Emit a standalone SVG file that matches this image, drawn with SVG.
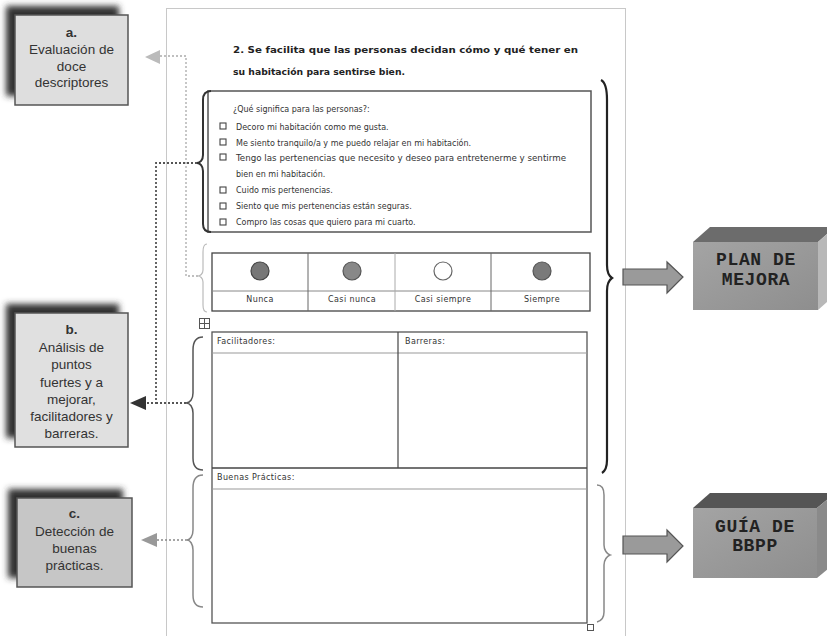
<svg xmlns="http://www.w3.org/2000/svg" width="827" height="636" viewBox="0 0 827 636">
<defs>
<filter id="sh" x="-30%" y="-30%" width="160%" height="160%"><feGaussianBlur stdDeviation="3.2"/></filter>
<linearGradient id="front" x1="0" y1="0" x2="1" y2="1"><stop offset="0" stop-color="#a4a4a4"/><stop offset="1" stop-color="#8e8e8e"/></linearGradient>
</defs>
<style>
.lbl{font-family:"Liberation Sans",Arial,sans-serif;font-size:13.5px;fill:#333;text-anchor:middle}
.doc{font-family:"DejaVu Sans",Verdana,sans-serif;font-size:8px;fill:#333}
.title{font-family:"DejaVu Sans",Verdana,sans-serif;font-size:9.3px;font-weight:bold;fill:#222}
.rate{font-family:"DejaVu Sans",Verdana,sans-serif;font-size:8px;fill:#333;text-anchor:middle;letter-spacing:0.4px}
.box3{font-family:"Liberation Mono","Courier New",monospace;font-size:18px;font-weight:bold;fill:#222;text-anchor:middle;letter-spacing:0.6px}
.cb{fill:#fff;stroke:#444;stroke-width:1.1}
.shadow{fill:#333;filter:url(#sh)}
.card{stroke:#555;stroke-width:1.5}
.dot{fill:none;stroke-dasharray:2 2}
.blk{fill:#9a9a9a;stroke:#555;stroke-width:1.2}
</style>
<rect width="827" height="636" fill="#fff"/>

<g id="page">
<rect x="166.5" y="8.5" width="459" height="640" fill="#fff" stroke="#c8c8c8" stroke-width="1"/>
<text class="title" x="233" y="53" textLength="345" lengthAdjust="spacingAndGlyphs">2. Se facilita que las personas decidan cómo y qué tener en</text>
<text class="title" x="233" y="75" textLength="172" lengthAdjust="spacingAndGlyphs">su habitación para sentirse bien.</text>
</g>

<g id="question-box">
<rect x="208" y="91" width="383" height="141" fill="#fff" stroke="#555" stroke-width="1.5"/>
<text class="doc" x="233" y="111.5">¿Qué significa para las personas?:</text>
<rect class="cb" x="220" y="123" width="6" height="6"/>
<text class="doc" x="236" y="129.5">Decoro mi habitación como me gusta.</text>
<rect class="cb" x="220" y="139" width="6" height="6"/>
<text class="doc" x="236" y="145.5">Me siento tranquilo/a y me puedo relajar en mi habitación.</text>
<rect class="cb" x="220" y="154" width="6" height="6"/>
<text class="doc" x="236" y="160.5" textLength="330" lengthAdjust="spacingAndGlyphs">Tengo las pertenencias que necesito y deseo para entretenerme y sentirme</text>
<text class="doc" x="236" y="176.5">bien en mi habitación.</text>
<rect class="cb" x="220" y="187" width="6" height="6"/>
<text class="doc" x="236" y="193">Cuido mis pertenencias.</text>
<rect class="cb" x="220" y="203" width="6" height="6"/>
<text class="doc" x="236" y="209">Siento que mis pertenencias están seguras.</text>
<rect class="cb" x="220" y="219" width="6" height="6"/>
<text class="doc" x="236" y="225">Compro las cosas que quiero para mi cuarto.</text>
</g>

<g id="rating-table">
<rect x="212" y="253" width="378" height="58" fill="#fff" stroke="#444" stroke-width="1.3"/>
<line x1="212" y1="291" x2="590" y2="291" stroke="#888" stroke-width="1"/>
<line x1="308" y1="253" x2="308" y2="311" stroke="#666" stroke-width="1"/>
<line x1="395" y1="253" x2="395" y2="311" stroke="#aaa" stroke-width="1"/>
<line x1="491" y1="253" x2="491" y2="311" stroke="#666" stroke-width="1"/>
<circle cx="260" cy="271" r="9" fill="#777" stroke="#444" stroke-width="1.2"/>
<circle cx="352" cy="271" r="9" fill="#888" stroke="#555" stroke-width="1.2"/>
<circle cx="443" cy="271" r="9" fill="#fff" stroke="#666" stroke-width="1.2"/>
<circle cx="542" cy="271" r="9" fill="#7a7a7a" stroke="#555" stroke-width="1.2"/>
<text class="rate" x="260" y="302">Nunca</text>
<text class="rate" x="352" y="302">Casi nunca</text>
<text class="rate" x="443" y="302">Casi siempre</text>
<text class="rate" x="542" y="302">Siempre</text>
</g>

<g id="analysis-table">
<rect x="199.5" y="318.5" width="10" height="10" fill="#fff" stroke="#555" stroke-width="1"/>
<line x1="204.5" y1="318.5" x2="204.5" y2="328.5" stroke="#555" stroke-width="1"/>
<line x1="199.5" y1="323.5" x2="209.5" y2="323.5" stroke="#555" stroke-width="1"/>
<rect x="212" y="332" width="375" height="291" fill="#fff" stroke="#555" stroke-width="1.3"/>
<line x1="212" y1="353" x2="587" y2="353" stroke="#999" stroke-width="1"/>
<line x1="398" y1="332" x2="398" y2="468" stroke="#444" stroke-width="1.2"/>
<line x1="212" y1="468" x2="587" y2="468" stroke="#444" stroke-width="1.3"/>
<line x1="212" y1="489" x2="587" y2="489" stroke="#999" stroke-width="1"/>
<text class="doc" x="217" y="344" style="letter-spacing:0.4px">Facilitadores:</text>
<text class="doc" x="405" y="344" style="letter-spacing:0.4px">Barreras:</text>
<text class="doc" x="217" y="480" style="letter-spacing:0.4px">Buenas Prácticas:</text>
<rect x="587.5" y="624.5" width="6" height="6" fill="#fff" stroke="#555" stroke-width="1"/>
</g>

<g id="braces" fill="none">
<path d="M211,91 C205,91 203,95 203,100 L203,155 C203,160 200,163 197,163 C200,163 203,166 203,171 L203,224 C203,229 205,232 211,232" stroke="#333" stroke-width="2"/>
<path d="M207,244 C204,244 203,248 203,252 L203,270 C203,274 200,276 198,276 C200,276 203,278 203,282 L203,305 C203,309 204,312 207,312" stroke="#bbb" stroke-width="1.2"/>
<path d="M203,337 C196,337 193,342 193,350 L193,393 C193,399 190,403 186,403 C190,403 193,407 193,413 L193,458 C193,465 196,470 203,470" stroke="#555" stroke-width="1.5"/>
<path d="M203,475 C196,475 193,480 193,488 L193,530 C193,536 190,540 187,540 C190,540 193,544 193,550 L193,595 C193,602 196,607 203,607" stroke="#888" stroke-width="1.5"/>
<path d="M601,80 C605,82 607,88 607,100 L607,265 C607,272 609,276 612,278 C609,280 607,284 607,291 L607,460 C607,467 605,471 602,473" stroke="#222" stroke-width="2.2"/>
<path d="M597,485 C602,485 604,489 604,495 L604,545 C604,550 607,554 610,555 C607,556 604,560 604,565 L604,612 C604,618 601,621 597,622" stroke="#888" stroke-width="1.5"/>
</g>

<g id="node-a">
<rect class="shadow" x="6" y="6" width="113" height="90"/>
<rect class="card" x="15" y="15" width="113" height="90" fill="#dedede"/>
<text class="lbl" x="71.5" y="37" font-weight="bold">a.</text>
<text class="lbl" x="71.5" y="54">Evaluación de</text>
<text class="lbl" x="71.5" y="70.5">doce</text>
<text class="lbl" x="71.5" y="87">descriptores</text>
</g>

<g id="node-b">
<rect class="shadow" x="6" y="304" width="113" height="134"/>
<rect class="card" x="15" y="313" width="113" height="134" fill="#e0e0e0"/>
<text class="lbl" x="71.5" y="334" font-weight="bold">b.</text>
<text class="lbl" x="71.5" y="352">Análisis de</text>
<text class="lbl" x="71.5" y="369">puntos</text>
<text class="lbl" x="71.5" y="386.5">fuertes y a</text>
<text class="lbl" x="71.5" y="403.5">mejorar,</text>
<text class="lbl" x="71.5" y="421">facilitadores y</text>
<text class="lbl" x="71.5" y="438">barreras.</text>
</g>

<g id="node-c">
<rect class="shadow" x="8" y="489" width="115" height="89"/>
<rect class="card" x="17" y="498" width="115" height="89" fill="#c6c6c6"/>
<text class="lbl" x="74.5" y="518" font-weight="bold">c.</text>
<text class="lbl" x="74.5" y="536">Detección de</text>
<text class="lbl" x="74.5" y="553">buenas</text>
<text class="lbl" x="74.5" y="570">prácticas.</text>
</g>

<g id="node-plan">
<polygon points="693,242 710,227 835,227 818,242" fill="#6c6c6c"/>
<polygon points="818,242 835,227 835,295 818,310" fill="#b8b8b8"/>
<rect x="693" y="242" width="125" height="68" fill="url(#front)"/>
<text class="box3" x="756" y="265">PLAN DE</text>
<text class="box3" x="756" y="285">MEJORA</text>
</g>

<g id="node-guia">
<polygon points="693,508 710,493 835,493 817,508" fill="#555"/>
<polygon points="817,508 835,493 835,563 817,578" fill="#8a8a8a"/>
<rect x="693" y="508" width="124" height="70" fill="url(#front)"/>
<text class="box3" x="755" y="532">GUÍA DE</text>
<text class="box3" x="755" y="551">BBPP</text>
</g>

<g id="connectors">
<polyline class="dot" points="198,276 186,276 186,56 160,56" stroke="#aaa" stroke-width="1.3"/>
<polygon points="145,57 160,50 160,64" fill="#bbb"/>
<path class="dot" d="M197,163 H156 V403 H146 M186,403 H156" stroke="#555" stroke-width="1.8"/>
<polygon points="130,403 146,396 146,410" fill="#333"/>
<path class="dot" d="M187,540 H157" stroke="#888" stroke-width="1.5"/>
<polygon points="141,540 157,533 157,547" fill="#999"/>
<polygon class="blk" points="623,269 667,269 667,262 683,277 667,293 667,285 623,285"/>
<polygon class="blk" points="623,536 667,536 667,530 683,546 667,562 667,554 623,554"/>
</g>
</svg>
